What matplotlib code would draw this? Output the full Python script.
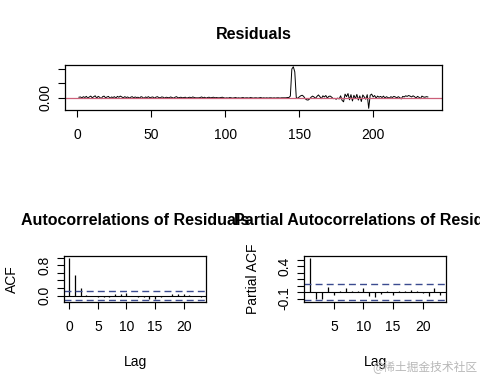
import numpy as np
import matplotlib
matplotlib.use("Agg")
import matplotlib.pyplot as plt

plt.rcParams['font.family'] = ['Liberation Sans', 'DejaVu Sans']

# residual series (t = 1..237)
residuals = [
    0.001, 0.002, -0.001, 0.003, 0.000, 0.004, -0.002, 0.002, 0.005, -0.001,
    0.003, 0.006, -0.002, 0.004, 0.001, -0.004, 0.003, 0.005, -0.001, 0.002,
    0.004, -0.003, 0.002, 0.000, 0.003, -0.002, 0.004, 0.001, 0.005, 0.002,
    -0.001, 0.003, 0.000, 0.002, -0.002, 0.001, 0.003, -0.001, 0.002, 0.000,
    0.001, -0.002, 0.003, 0.001, -0.003, 0.002, 0.000, 0.003, -0.001, 0.001,
    0.002, -0.002, 0.001, 0.003, 0.000, -0.001, 0.002, 0.001, -0.002, 0.001,
    0.000, -0.001, 0.002, 0.000, -0.002, 0.001, 0.003, -0.001, 0.000, 0.001,
    -0.001, 0.000, 0.001, -0.002, 0.000, 0.001, -0.001, 0.002, 0.000, -0.001,
    -0.001, -0.001, 0.000, 0.002, -0.001, 0.001, -0.002, 0.000, 0.001, -0.001,
    0.000, 0.001, -0.001, 0.000, -0.001, -0.001, 0.000, 0.001, -0.001, -0.002,
    -0.001, -0.002, 0.000, -0.001, -0.002, -0.001, 0.000, -0.002, -0.001, -0.002,
    -0.001, 0.000, -0.002, -0.001, -0.001, -0.002, 0.000, -0.001, -0.002, -0.001,
    -0.001, -0.002, -0.001, 0.000, -0.002, -0.001, -0.002, -0.001, -0.002, -0.001,
    -0.001, -0.002, -0.001, -0.002, -0.001, -0.001, -0.002, -0.001, -0.001, -0.001,
    -0.001, 0.000, 0.000, 0.005, 0.100, 0.108, 0.090, 0.000, -0.003, 0.002,
    0.006, 0.008, 0.004, -0.004, -0.008, -0.009, -0.005, 0.001, 0.005, 0.002,
    -0.003, 0.004, 0.009, 0.003, -0.004, 0.006, 0.002, 0.007, -0.002, 0.004,
    0.005, 0.001, -0.004, -0.003, -0.006, -0.002, -0.005, 0.006, -0.010, -0.015,
    0.012, 0.003, 0.014, -0.008, 0.010, -0.012, 0.008, -0.004, 0.011, -0.009,
    0.006, -0.014, 0.009, 0.002, -0.006, 0.010, -0.038, 0.008, 0.012, 0.002,
    0.007, -0.002, 0.005, 0.001, 0.004, 0.000, 0.005, -0.002, 0.003, 0.000,
    -0.002, 0.003, 0.000, 0.004, 0.002, -0.001, 0.003, 0.000, -0.005, 0.004,
    0.002, 0.006, 0.004, 0.007, 0.005, 0.002, 0.006, 0.003, -0.002, 0.004,
    0.001, -0.004, 0.005, 0.002, 0.001, 0.003, 0.002,
]

acf_lags = list(range(0, 24))
acf_values = [1.0, 0.53, 0.21, 0.01, 0.00, -0.04, -0.03, -0.04, 0.03, 0.04,
              0.06, 0.00, -0.03, -0.05, -0.08, -0.09, -0.04, -0.02, 0.03, 0.05,
              0.03, 0.02, -0.02, -0.03]

pacf_lags = list(range(1, 24))
pacf_values = [0.53, -0.11, -0.11, 0.08, -0.05, 0.02, 0.07, 0.01, 0.02, 0.07,
               -0.06, -0.07, -0.03, 0.01, -0.05, 0.01, 0.02, 0.03, 0.02, -0.01,
               -0.06, 0.06, -0.04]

top_xticks = [0, 50, 100, 150, 200]
top_yticks = [0.0, 0.05, 0.10]
top_ylabels = ["0.00", "", ""]
acf_yticks = [0.0, 0.2, 0.4, 0.6, 0.8, 1.0]
acf_ylabels = ["0.0", "", "", "", "0.8", ""]
pacf_yticks = [-0.1, 0.0, 0.1, 0.2, 0.3, 0.4, 0.5]
pacf_ylabels = ["-0.1", "", "", "", "", "0.4", ""]
lag_ticks_acf = [0, 5, 10, 15, 20]
lag_ticks_pacf = [5, 10, 15, 20]

CI_COL = '#3b4b8f'
TICK_FS = 10


def r_range(lo, hi):
    pad = (hi - lo) * 0.04
    return lo - pad, hi + pad


def style_axis(ax):
    for s in ax.spines.values():
        s.set_linewidth(0.9)
        s.set_color('black')
    ax.tick_params(length=5, width=0.8, labelsize=TICK_FS, pad=4)
    ax.tick_params(axis='x', pad=8)
    ax.tick_params(axis='y', labelrotation=90)
    for lab in ax.get_yticklabels():
        lab.set_va('center')


fig = plt.figure(figsize=(4.8, 3.84), dpi=100)

# top: residual series
t = np.arange(1, len(residuals) + 1)
ax1 = fig.add_axes([0.1354, 0.7135, 0.785, 0.117])
ax1.plot(t, residuals, color='black', lw=0.7)
ax1.axhline(0, color='#cc5f78', lw=0.9)
ax1.set_xlim(*r_range(t.min(), t.max()))
ax1.set_ylim(*r_range(min(residuals), max(residuals)))
ax1.set_xticks(top_xticks)
ax1.set_yticks(top_yticks)
ax1.set_yticklabels(top_ylabels)
style_axis(ax1)
fig.text(0.528, 0.91, "Residuals", ha='center', va='center',
         fontsize=11.5, fontweight='bold')

n = len(residuals)
clim = 1.96 / np.sqrt(n)

# bottom left: ACF
ax2 = fig.add_axes([0.1333, 0.2135, 0.296, 0.1198])
ax2.vlines(acf_lags, 0, acf_values, color='black', lw=0.9)
ax2.axhline(0, color='black', lw=0.8)
for c in (clim, -clim):
    ax2.axhline(c, color=CI_COL, lw=1.0, ls=(0, (5, 3)))
ax2.set_xlim(*r_range(min(acf_lags), max(acf_lags)))
ax2.set_ylim(*r_range(min(min(acf_values), -clim), max(max(acf_values), clim)))
ax2.set_xticks(lag_ticks_acf)
ax2.set_yticks(acf_yticks)
ax2.set_yticklabels(acf_ylabels)
ax2.set_xlabel("Lag", fontsize=TICK_FS, labelpad=15)
ax2.set_ylabel("ACF", fontsize=TICK_FS, labelpad=13)
style_axis(ax2)

# bottom right: PACF
ax3 = fig.add_axes([0.634, 0.2135, 0.2946, 0.1198])
ax3.vlines(pacf_lags, 0, pacf_values, color='black', lw=0.9)
ax3.axhline(0, color='black', lw=0.8)
for c in (clim, -clim):
    ax3.axhline(c, color=CI_COL, lw=1.0, ls=(0, (5, 3)))
ax3.set_xlim(0.0, 23.9)
ax3.set_ylim(*r_range(min(min(pacf_values), -clim), max(max(pacf_values), clim)))
ax3.set_xticks(lag_ticks_pacf)
ax3.set_yticks(pacf_yticks)
ax3.set_yticklabels(pacf_ylabels)
ax3.set_xlabel("Lag", fontsize=TICK_FS, labelpad=15)
ax3.set_ylabel("Partial ACF", fontsize=TICK_FS, labelpad=13)
style_axis(ax3)

# titles of the lower panels (right one runs off the edge like the original)
fig.text(0.2813, 0.427, "Autocorrelations of Residuals", ha='center',
         va='center', fontsize=11.5, fontweight='bold')
fig.text(0.7813, 0.427, "Partial Autocorrelations of Residuals", ha='center',
         va='center', fontsize=11.5, fontweight='bold')

# watermark
fig.text(0.885, 0.045, "@稀土掘金技术社区", ha='center', va='center',
         fontsize=8.5, color='#b8b8b8',
         family=['Noto Sans CJK SC', 'DejaVu Sans'])

fig.savefig("out.png", dpi=100)
